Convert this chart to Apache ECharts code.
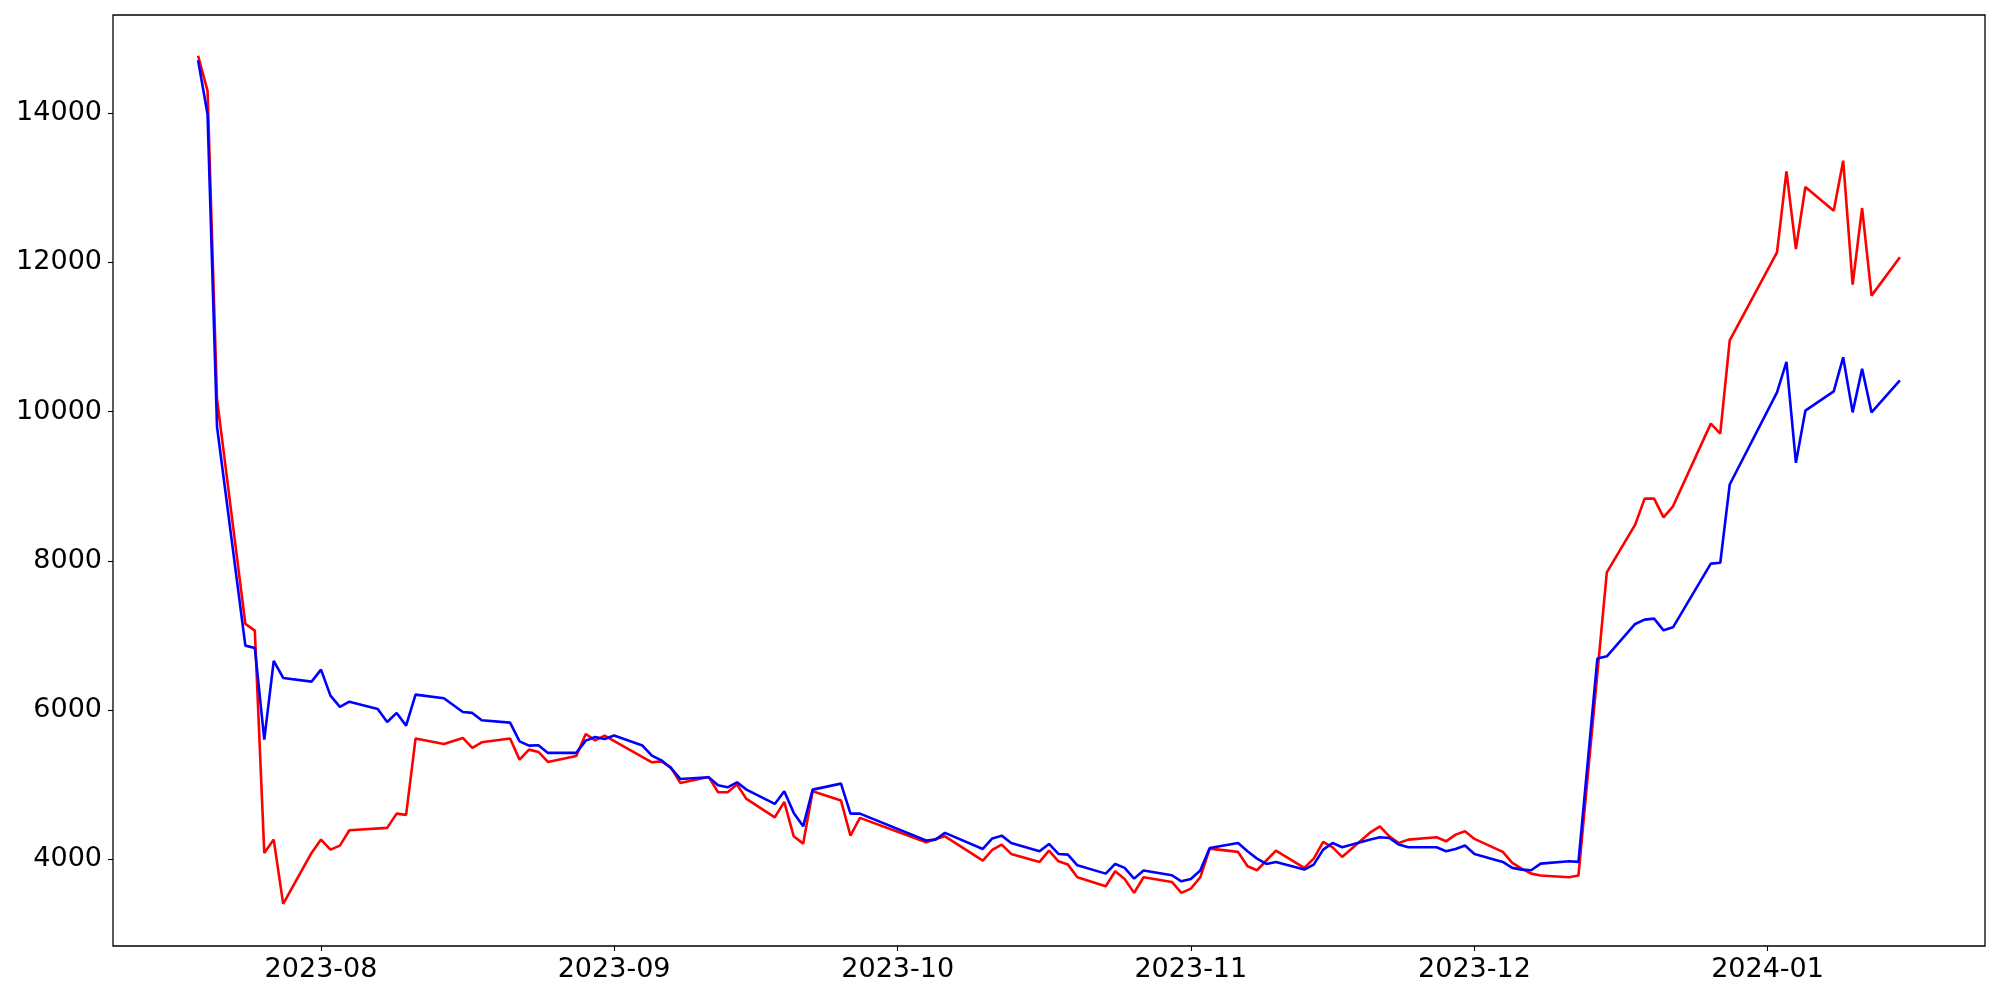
<!DOCTYPE html>
<html>
<head>
<meta charset="utf-8">
<script src="https://cdn.jsdelivr.net/npm/echarts@6/dist/echarts.min.js"></script>
<style>
html,body{margin:0;padding:0;background:#fff;}
#chart{width:2000px;height:1000px;}
</style>
</head>
<body>
<div id="chart"></div>
<script>
const dates = [
 '2023-07-19','2023-07-20','2023-07-21','2023-07-24','2023-07-25','2023-07-26','2023-07-27','2023-07-28','2023-07-31',
 '2023-08-01','2023-08-02','2023-08-03','2023-08-04','2023-08-07','2023-08-08','2023-08-09','2023-08-10','2023-08-11',
 '2023-08-14','2023-08-16','2023-08-17','2023-08-18','2023-08-21','2023-08-22','2023-08-23','2023-08-24','2023-08-25',
 '2023-08-28','2023-08-29','2023-08-30','2023-08-31','2023-09-01','2023-09-04','2023-09-05','2023-09-06','2023-09-07',
 '2023-09-08','2023-09-11','2023-09-12','2023-09-13','2023-09-14','2023-09-15','2023-09-18','2023-09-19','2023-09-20',
 '2023-09-21','2023-09-22','2023-09-25','2023-09-26','2023-09-27','2023-10-04','2023-10-05','2023-10-06','2023-10-10',
 '2023-10-11','2023-10-12','2023-10-13','2023-10-16','2023-10-17','2023-10-18','2023-10-19','2023-10-20','2023-10-23',
 '2023-10-24','2023-10-25','2023-10-26','2023-10-27','2023-10-30','2023-10-31','2023-11-01','2023-11-02','2023-11-03',
 '2023-11-06','2023-11-07','2023-11-08','2023-11-09','2023-11-10','2023-11-13','2023-11-14','2023-11-15','2023-11-16',
 '2023-11-17','2023-11-20','2023-11-21','2023-11-22','2023-11-23','2023-11-24','2023-11-27','2023-11-28','2023-11-29',
 '2023-11-30','2023-12-01','2023-12-04','2023-12-05','2023-12-06','2023-12-07','2023-12-08','2023-12-11','2023-12-12',
 '2023-12-14','2023-12-15','2023-12-18','2023-12-19','2023-12-20','2023-12-21','2023-12-22','2023-12-26','2023-12-27',
 '2023-12-28','2024-01-02','2024-01-03','2024-01-04','2024-01-05','2024-01-08','2024-01-09','2024-01-10','2024-01-11',
 '2024-01-12','2024-01-15'
];
const redValues = [
 14770,14300,10170,7155,7065,4086,4264,3402,4086,
 4264,4130,4184,4389,null,4421,4612,4595,5618,
 5546,5627,5493,5568,5618,5336,5470,5439,5305,
 5385,5680,5595,5658,null,null,5300,5313,5233,
 5024,5104,4898,4898,5001,4809,4563,4769,4308,
 4210,4911,4787,4318,4555,4228,4273,4308,3983,
 4125,4197,4072,3965,4117,3973,3929,3759,3638,
 3839,3737,3550,3759,3697,3550,3607,3759,4143,
 4099,3906,3853,null,4117,3885,4009,4233,4161,
 4032,4362,4442,4308,4219,4264,4295,4241,4331,
 4375,4273,4099,3952,3875,3808,3782,3759,3782,
 null,7846,8485,8834,8834,8583,8731,9839,9705,
 10955,12134,13220,12180,13011,12693,13363,11702,12729,
 11555,12068
];
const blueValues = [
 14710,13985,9800,6864,6833,5604,6659,6431,6381,
 6542,6194,6042,6113,6015,5841,5962,5792,6207,
 6158,5975,5962,5863,5832,5581,5524,5528,5426,
 5426,5591,5640,5613,5658,5524,5390,5327,5225,
 5077,5099,4992,4965,5032,4934,4742,4911,4622,
 4442,4934,5014,4612,4612,4251,4264,4354,4139,
 4279,4317,4219,4107,4206,4072,4063,3920,3808,
 3938,3885,3741,3849,3786,3705,3737,3849,4152,
 4219,4107,4009,3938,3965,3862,3929,4130,4219,
 4161,4264,4295,4286,4197,4161,4161,4107,4139,
 4184,4072,3965,3885,3862,3853,3942,3973,3965,
 6690,6721,7154,7212,7226,7069,7109,7963,7975,
 9023,10258,10666,9314,10013,10272,10728,9990,10576,
 9990,10419
];
const yTicks = [4000, 6000, 8000, 10000, 12000, 14000];
const xTickLabels = ['2023-08','2023-09','2023-10','2023-11','2023-12','2024-01'];

function ts(s){ const p = s.split('-').map(Number); return Date.UTC(p[0], p[1]-1, p[2] || 1); }
const xTicks = xTickLabels.map(ts);
const redData = dates.map((d,i)=>[ts(d), redValues[i]]);
const blueData = dates.map((d,i)=>[ts(d), blueValues[i]]);

const font = 'DejaVu Sans';
const chart = echarts.init(document.getElementById('chart'), null, {renderer:'canvas'});
chart.setOption({
  animation:false,
  backgroundColor:'#ffffff',
  grid:{left:113, right:15, top:15, bottom:54, show:true, borderColor:'#000000', borderWidth:1.3, backgroundColor:'transparent'},
  xAxis:{
    type:'value',
    min: ts('2023-07-10'),
    max: ts('2024-01-24'),
    axisLine:{show:false},
    splitLine:{show:false},
    axisTick:{show:true, length:5, lineStyle:{color:'#000', width:1.1}, customValues:xTicks},
    axisLabel:{show:true, customValues:xTicks, margin:10, fontFamily:font, fontSize:27, color:'#000',
      formatter:function(v){ const d=new Date(v); const m=d.getUTCMonth()+1; return d.getUTCFullYear()+'-'+(m<10?'0':'')+m; }}
  },
  yAxis:{
    type:'value',
    min:2838,
    max:15316,
    axisLine:{show:false},
    splitLine:{show:false},
    axisTick:{show:true, length:5, lineStyle:{color:'#000', width:1.1}, customValues:yTicks},
    axisLabel:{show:true, customValues:yTicks, margin:11, fontFamily:font, fontSize:27, color:'#000',
      formatter:function(v){ return String(Math.round(v)); }}
  },
  series:[
    {type:'line', data:redData, showSymbol:false, connectNulls:true, lineStyle:{color:'#ff0000', width:2.6}, itemStyle:{color:'#ff0000'}, z:2},
    {type:'line', data:blueData, showSymbol:false, connectNulls:true, lineStyle:{color:'#0000ff', width:2.6}, itemStyle:{color:'#0000ff'}, z:3}
  ]
});
</script>
</body>
</html>
